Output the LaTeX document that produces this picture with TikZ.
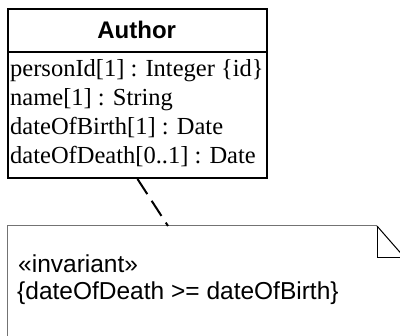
\documentclass[tikz,border=0pt]{standalone}
\usepackage{fontspec}
\setmainfont{Liberation Serif}
\newfontfamily\arialfont{Liberation Sans}
\begin{document}
\begin{tikzpicture}[x=1pt,y=-1pt,
  classbox/.style={draw=black, line width=2pt, inner sep=0pt, anchor=north west},
  attr/.style={anchor=base west, inner sep=0pt, font=\fontsize{24.5}{29}\selectfont},
  notetext/.style={anchor=base west, inner sep=0pt, font=\arialfont\fontsize{24.5}{27}\selectfont},
  noteedge/.style={draw=black!55, line width=1pt},
  foldedge/.style={draw=black, line width=1pt},
  anchorline/.style={draw=black, line width=2pt, dash pattern=on 18pt off 8pt}]
\useasboundingbox (0,0) rectangle (400,336);
\clip (0,0) rectangle (400,336);
% class
\node[classbox, minimum width=259pt, minimum height=169pt] (cls) at (7,8) {};
\node[anchor=north west, inner sep=0pt, minimum width=259pt, minimum height=44pt,
      font=\arialfont\bfseries\fontsize{24}{28}\selectfont] (hdr) at (7,8) {Author};
\draw[line width=2pt] (hdr.south west) -- (hdr.south east);
\node[attr] (a1) at (10,77) {personId[1] : Integer \{id\}};
\node[attr] (a2) at (10,106) {name[1] : String};
\node[attr] (a3) at (10,135) {dateOfBirth[1] : Date};
\node[attr] (a4) at (10,164) {dateOfDeath[0..1] : Date};
% note
\node[anchor=north west, inner sep=0pt, minimum width=410pt, minimum height=130pt] (note) at (7,226) {};
\coordinate (fold) at (377,226);
\path[noteedge] (note.south west) -- (note.north west) -- (fold);
\path[foldedge] (fold) -- ++(0,32) -- ++(30,0);
\path[foldedge] (fold) -- ++(28,32);
\node[notetext] (n1) at (18,273) {«invariant»};
\node[notetext] (n2) at (17,300) {\{dateOfDeath >= dateOfBirth\}};
% anchor line
\coordinate (na) at (168,226);
\path[anchorline] (cls.south) -- (na);
\end{tikzpicture}
\end{document}
